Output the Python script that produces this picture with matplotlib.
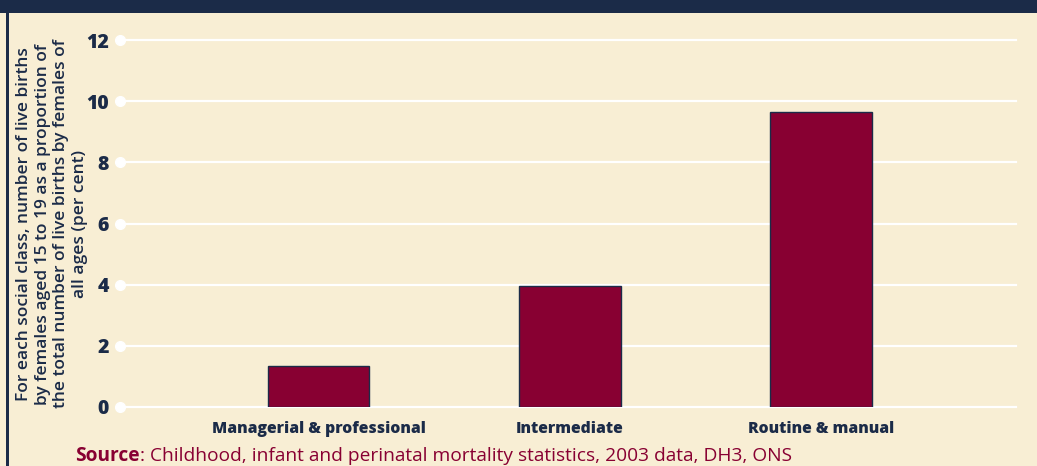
#!/usr/bin/env python3
"""Teenage live births by social class, 2003 - bar chart recreation."""

import matplotlib
matplotlib.use('Agg')
import matplotlib.pyplot as plt
from matplotlib.patches import Rectangle

plt.rcParams['font.family'] = ['Open Sans', 'DejaVu Sans']

# Data
CLASSES = ['Managerial & professional', 'Intermediate', 'Routine & manual']
VALUES = [1.35, 3.96, 9.65]
Y_TICKS = [0, 2, 4, 6, 8, 10, 12]

Y_LABEL = ('For each social class, number of live births\n'
           'by females aged 15 to 19 as a proportion of\n'
           'the total number of live births by females of\n'
           'all ages (per cent)')
SOURCE_TEXT = ': Childhood, infant and perinatal mortality statistics, 2003 data, DH3, ONS'

# Colours
BG = '#F8EED4'
NAVY = '#1B2B48'
BAR = '#880032'

W, H = 1037, 466


def main():
    fig = plt.figure(figsize=(W / 100, H / 100), dpi=100, facecolor=BG)

    # Top band and left border
    fig.add_artist(Rectangle((0, 1 - 13 / H), 1, 13 / H, transform=fig.transFigure,
                             facecolor=NAVY, edgecolor='none'))
    fig.add_artist(Rectangle((6 / W, 0), 2.5 / W, 1, transform=fig.transFigure,
                             facecolor=NAVY, edgecolor='none'))

    left, right = 120 / W, 1016 / W
    bottom, top = (H - 407) / H, (H - 40) / H
    ax = fig.add_axes([left, bottom, right - left, top - bottom])
    ax.set_facecolor('none')

    x = range(len(CLASSES))
    ax.set_xlim(-0.79, 2.775)
    ax.set_ylim(0, 12)

    # Gridlines with white dots at the left end
    for t in Y_TICKS:
        ax.axhline(t, color='white', lw=1.6, zorder=1, clip_on=False)
    ax.plot([-0.79] * len(Y_TICKS), Y_TICKS, 'o', color='white', ms=7,
            clip_on=False, zorder=2)

    ax.bar(x, VALUES, width=0.405, color=BAR, edgecolor=NAVY, linewidth=1.0, zorder=3)

    for s in ax.spines.values():
        s.set_visible(False)
    ax.tick_params(length=0)
    ax.set_yticks(Y_TICKS)
    ax.set_yticklabels([str(t) for t in Y_TICKS], fontsize=14, fontweight='heavy', color=NAVY)
    ax.tick_params(axis='y', pad=8)
    ax.set_xticks(list(x))
    ax.set_xticklabels(CLASSES, fontsize=11.3, fontweight='heavy', color=NAVY)
    ax.tick_params(axis='x', pad=10)

    fig.text(52 / W, (H - 224) / H, Y_LABEL, rotation=90, ha='center', va='center',
             ma='center', fontsize=12.5, fontweight='semibold', color=NAVY, linespacing=1.2)

    # Source line: bold "Source" then regular text
    t1 = fig.text(75 / W, (H - 456) / H, 'Source', fontsize=13.8, fontweight='bold',
                  color=BAR, va='center')
    fig.canvas.draw()
    bb = t1.get_window_extent()
    fig.text(bb.x1 / W, (H - 456) / H, SOURCE_TEXT, fontsize=13.8, color=BAR, va='center')

    fig.savefig('out.png', dpi=100, facecolor=BG)
    plt.close(fig)


if __name__ == '__main__':
    main()
